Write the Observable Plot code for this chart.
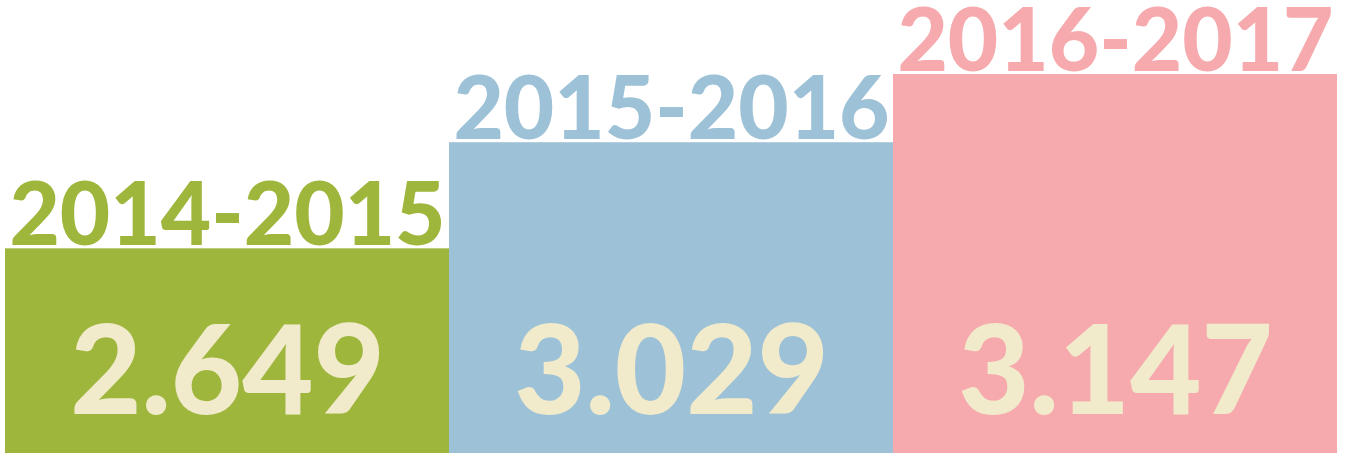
<!DOCTYPE html>
<html>
<head>
<meta charset="utf-8">
<script src="https://cdn.jsdelivr.net/npm/d3@7"></script>
<script src="https://cdn.jsdelivr.net/npm/@observablehq/plot@0.6"></script>
<style>
  html, body { margin: 0; padding: 0; background: #ffffff; }
  svg { display: block; overflow: visible; }
</style>
</head>
<body>
<div id="chart"></div>
<script>
// Seasons (categories)
const seasons = ["2014-2015", "2015-2016", "2016-2017"];
// Values shown inside the bars
const values = [2649, 3029, 3147];
// Relative bar levels as drawn in the infographic (% of tallest bar)
const barLevels = [54, 82, 100];
// Colours per season
const colors = ["#9fb63d", "#9dc1d6", "#f6aaad"];

const data = seasons.map((s, i) => ({season: s, value: values[i], level: barLevels[i]}));
const fmt = v => d3.format(",")(v).replace(",", ".");

const chart = Plot.plot({
  width: 1360,
  height: 457,
  marginLeft: 5,
  marginRight: 23,
  marginTop: 74,
  marginBottom: 4,
  x: {domain: seasons, padding: 0, axis: null},
  y: {domain: [0, 100], axis: null},
  color: {domain: seasons, range: colors},
  style: {fontFamily: "Lato, sans-serif", background: "#ffffff", overflow: "visible"},
  marks: [
    Plot.barY(data, {x: "season", y: "level", fill: "season"}),
    Plot.text(data, {
      x: "season", y: "level", text: "season", fill: "season",
      lineAnchor: "bottom", dy: -4,
      fontSize: 87, fontWeight: 900
    }),
    Plot.text(data, {
      x: "season", y: 0, text: d => fmt(d.value), fill: "#f1ebcc",
      lineAnchor: "bottom", dy: -40,
      fontSize: 123, fontWeight: 900
    })
  ]
});
document.getElementById("chart").appendChild(chart);
</script>
</body>
</html>
